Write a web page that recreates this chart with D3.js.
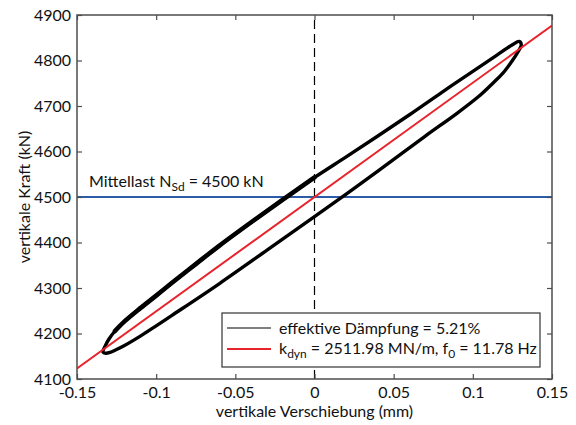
<!DOCTYPE html>
<html>
<head>
<meta charset="utf-8">
<script src="https://cdn.jsdelivr.net/npm/d3@7"></script>
<style>
  body { margin: 0; background: #fff; }
  svg { font-family: Lato, "Open Sans", sans-serif; }
</style>
</head>
<body>
<div id="chart"></div>
<script>
// data
var xTicks = [-0.15, -0.1, -0.05, 0, 0.05, 0.1, 0.15];
var yTicks = [4100, 4200, 4300, 4400, 4500, 4600, 4700, 4800, 4900];

// hysteresis loop, upper branch left -> right
var upperX = [-0.1336, -0.1320, -0.1300, -0.1260, -0.1200, -0.1100, -0.1000, -0.0900, -0.0750, -0.0600, -0.0400, -0.0200, 0, 0.0200, 0.0400, 0.0600, 0.0800, 0.1000, 0.1150, 0.1250, 0.1292];
var upperF = [4159, 4174, 4186.9, 4205.5, 4226.6, 4255.7, 4283.3, 4311.4, 4352.6, 4393.3, 4444.5, 4494.3, 4543, 4588.2, 4634, 4680.7, 4729, 4776.2, 4811.4, 4834.5, 4842];
// lower branch right -> left
var lowerX = [0.1306, 0.1280, 0.1250, 0.1190, 0.1120, 0.1040, 0.0900, 0.0700, 0.0400, 0.0200, 0, -0.0300, -0.0600, -0.0900, -0.1000, -0.1100, -0.1200, -0.1260, -0.1290, -0.1318];
var lowerF = [4835, 4816, 4800, 4772, 4748, 4722, 4684, 4634, 4557, 4506.2, 4457, 4383.1, 4309.8, 4239.9, 4216.8, 4194.2, 4173.6, 4163, 4158.5, 4156.5];

var meanLoad = 4500;
var kDyn = 2511.98;   // MN/m = kN/mm
var fitX = [-0.15, 0.15];

var width = 576, height = 425;
var margin = {top: 15, right: 24, bottom: 46, left: 77};
var fontSize = '16px';

var svg = d3.select('#chart').append('svg')
  .attr('width', width)
  .attr('height', height);

var x = d3.scaleLinear().domain([-0.15, 0.15]).range([margin.left, width - margin.right]);
var y = d3.scaleLinear().domain([4100, 4900]).range([height - margin.bottom, margin.top]);

var g = svg.append('g');

// clip to plot area
svg.append('clipPath').attr('id', 'clip').append('rect')
  .attr('x', x(-0.15)).attr('y', y(4900))
  .attr('width', x(0.15) - x(-0.15)).attr('height', y(4100) - y(4900));

var plot = g.append('g').attr('clip-path', 'url(#clip)');

// blue mean-load line
plot.append('line')
  .attr('x1', x(-0.15)).attr('x2', x(0.15))
  .attr('y1', y(meanLoad)).attr('y2', y(meanLoad))
  .attr('stroke', '#2c5ba8').attr('stroke-width', 2);

// dashed zero line
plot.append('line')
  .attr('x1', x(0)).attr('x2', x(0))
  .attr('y1', y(4100)).attr('y2', y(4900))
  .attr('stroke', '#000').attr('stroke-width', 1.2)
  .attr('stroke-dasharray', '9,5');

// loop
var upperPts = upperX.map(function(d, i){ return [d, upperF[i]]; });
var lowerPts = lowerX.map(function(d, i){ return [d, lowerF[i]]; });
var loopPts = upperPts.concat(lowerPts);

var lineClosed = d3.line()
  .x(function(d){ return x(d[0]); })
  .y(function(d){ return y(d[1]); })
  .curve(d3.curveCatmullRomClosed.alpha(0.5));
var lineOpen = d3.line()
  .x(function(d){ return x(d[0]); })
  .y(function(d){ return y(d[1]); })
  .curve(d3.curveCatmullRom.alpha(0.5));

plot.append('path')
  .datum(loopPts)
  .attr('d', lineClosed)
  .attr('fill', 'none')
  .attr('stroke', '#000')
  .attr('stroke-width', 3.4)
  .attr('stroke-linejoin', 'round');

// several cycles overlap on the upper left branch, so it looks heavier
plot.append('path')
  .datum(upperPts.filter(function(d){ return d[0] > -0.128 && d[0] < 0.005; }))
  .attr('d', lineOpen)
  .attr('fill', 'none')
  .attr('stroke', '#000')
  .attr('stroke-width', 4.6)
  .attr('stroke-linecap', 'round');

// red stiffness line
plot.append('line')
  .attr('x1', x(fitX[0])).attr('x2', x(fitX[1]))
  .attr('y1', y(meanLoad + kDyn * fitX[0])).attr('y2', y(meanLoad + kDyn * fitX[1]))
  .attr('stroke', '#e8232b').attr('stroke-width', 2);

// axes box with inward ticks
var axisColor = '#4d4d4d';
function styleAxis(sel){
  sel.select('.domain').remove();
  sel.selectAll('.tick line').attr('stroke', axisColor).attr('stroke-width', 1.2);
  sel.selectAll('.tick text').attr('fill', '#111').style('font-size', fontSize)
    .style('font-family', 'Lato, "Open Sans", sans-serif');
}
var fmtX = function(d){ return d === 0 ? '0' : String(d); };

g.append('g').attr('transform', 'translate(0,' + y(4100) + ')')
  .call(d3.axisBottom(x).tickValues(xTicks).tickFormat(fmtX).tickSizeInner(-5).tickSizeOuter(0).tickPadding(8))
  .call(styleAxis);
g.append('g').attr('transform', 'translate(0,' + y(4900) + ')')
  .call(d3.axisTop(x).tickValues(xTicks).tickFormat('').tickSizeInner(-5).tickSizeOuter(0))
  .call(styleAxis);
g.append('g').attr('transform', 'translate(' + x(-0.15) + ',0)')
  .call(d3.axisLeft(y).tickValues(yTicks).tickFormat(d3.format('d')).tickSizeInner(-5).tickSizeOuter(0).tickPadding(6))
  .call(styleAxis);
g.append('g').attr('transform', 'translate(' + x(0.15) + ',0)')
  .call(d3.axisRight(y).tickValues(yTicks).tickFormat('').tickSizeInner(-5).tickSizeOuter(0))
  .call(styleAxis);

g.append('rect')
  .attr('x', x(-0.15)).attr('y', y(4900))
  .attr('width', x(0.15) - x(-0.15)).attr('height', y(4100) - y(4900))
  .attr('fill', 'none').attr('stroke', axisColor).attr('stroke-width', 1.5);

// axis titles
svg.append('text')
  .attr('x', (x(-0.15) + x(0.15)) / 2).attr('y', 417)
  .attr('text-anchor', 'middle').style('font-size', fontSize).attr('fill', '#111')
  .text('vertikale Verschiebung (mm)');

svg.append('text')
  .attr('transform', 'translate(30,' + ((y(4100) + y(4900)) / 2) + ') rotate(-90)')
  .attr('text-anchor', 'middle').style('font-size', fontSize).attr('fill', '#111')
  .text('vertikale Kraft (kN)');

// mean load label
var ml = svg.append('text')
  .attr('x', 89).attr('y', 187)
  .style('font-size', fontSize).attr('fill', '#111');
ml.append('tspan').text('Mittellast N');
ml.append('tspan').attr('dy', 4).style('font-size', '12px').text('Sd');
ml.append('tspan').attr('dy', -4).text(' = 4500 kN');

// legend
var lg = svg.append('g');
lg.append('rect')
  .attr('x', 222).attr('y', 313).attr('width', 318).attr('height', 54)
  .attr('fill', '#fff').attr('stroke', '#333').attr('stroke-width', 1.2);
lg.append('line').attr('x1', 227).attr('x2', 271).attr('y1', 328).attr('y2', 328)
  .attr('stroke', '#000').attr('stroke-width', 1.2);
lg.append('line').attr('x1', 227).attr('x2', 271).attr('y1', 349).attr('y2', 349)
  .attr('stroke', '#e8232b').attr('stroke-width', 2);
lg.append('text').attr('x', 279).attr('y', 333.5)
  .style('font-size', fontSize).attr('fill', '#111')
  .text('effektive Dämpfung = 5.21%');
var t2 = lg.append('text').attr('x', 279).attr('y', 354)
  .style('font-size', fontSize).attr('fill', '#111');
t2.append('tspan').text('k');
t2.append('tspan').attr('dy', 4).style('font-size', '12px').text('dyn');
t2.append('tspan').attr('dy', -4).text(' = 2511.98 MN/m, f');
t2.append('tspan').attr('dy', 4).style('font-size', '12px').text('0');
t2.append('tspan').attr('dy', -4).text(' = 11.78 Hz');
</script>
</body>
</html>
